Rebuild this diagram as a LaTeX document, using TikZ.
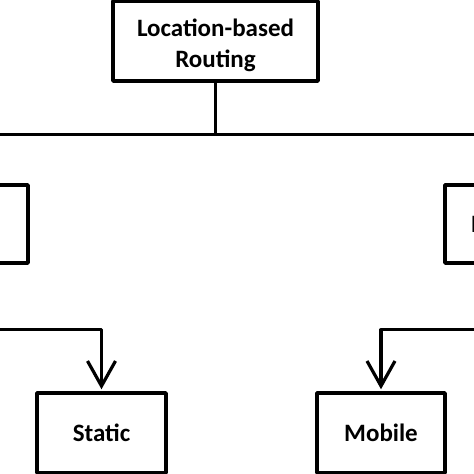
\documentclass[tikz,border=0pt]{standalone}
\usepackage{fontspec}
\setmainfont{Carlito}
\usetikzlibrary{arrows.meta}

\begin{document}
\begin{tikzpicture}[line cap=round,line join=round,>={Straight Barb[length=25pt,width=28pt]},x=1pt,y=-1pt]
    \tikzset{box/.style={draw,line width=3.5pt,font=\bfseries\fontsize{25}{31}\selectfont,align=center,inner sep=0pt}}
    \useasboundingbox (0,0) rectangle (474,474);
    \clip (0,0) rectangle (474,474);
    % boxes
    \node[box,minimum width=205pt,minimum height=80pt] (routing) at (215.5,41) {\rule{0pt}{26pt}Location-based\\Routing};
    \node[box,minimum width=128pt,minimum height=78pt] (leftbox) at (-36,224) {};
    \node[box,minimum height=78pt,text width=76pt,inner xsep=26pt,align=left] (rightbox) at (509,224) {Node};
    \node[box,minimum width=129pt,minimum height=80pt] (static) at (101.5,433) {Static};
    \node[box,minimum width=128pt,minimum height=80pt] (mobile) at (381,433) {Mobile};
    % connectors
    \draw[line width=3.2pt] (routing.south) -- ++(0,52) -| (leftbox.north);
    \draw[line width=3.2pt] (routing.south) -- ++(0,52) -| (rightbox.north);
    \draw[->,line width=3.2pt,shorten >=2pt] (leftbox.south) -- ++(0,65) -| (static.north);
    \draw[->,line width=3.2pt,shorten >=2pt] (rightbox.south) -- ++(0,65) -| (mobile.north);
\end{tikzpicture}
\end{document}
